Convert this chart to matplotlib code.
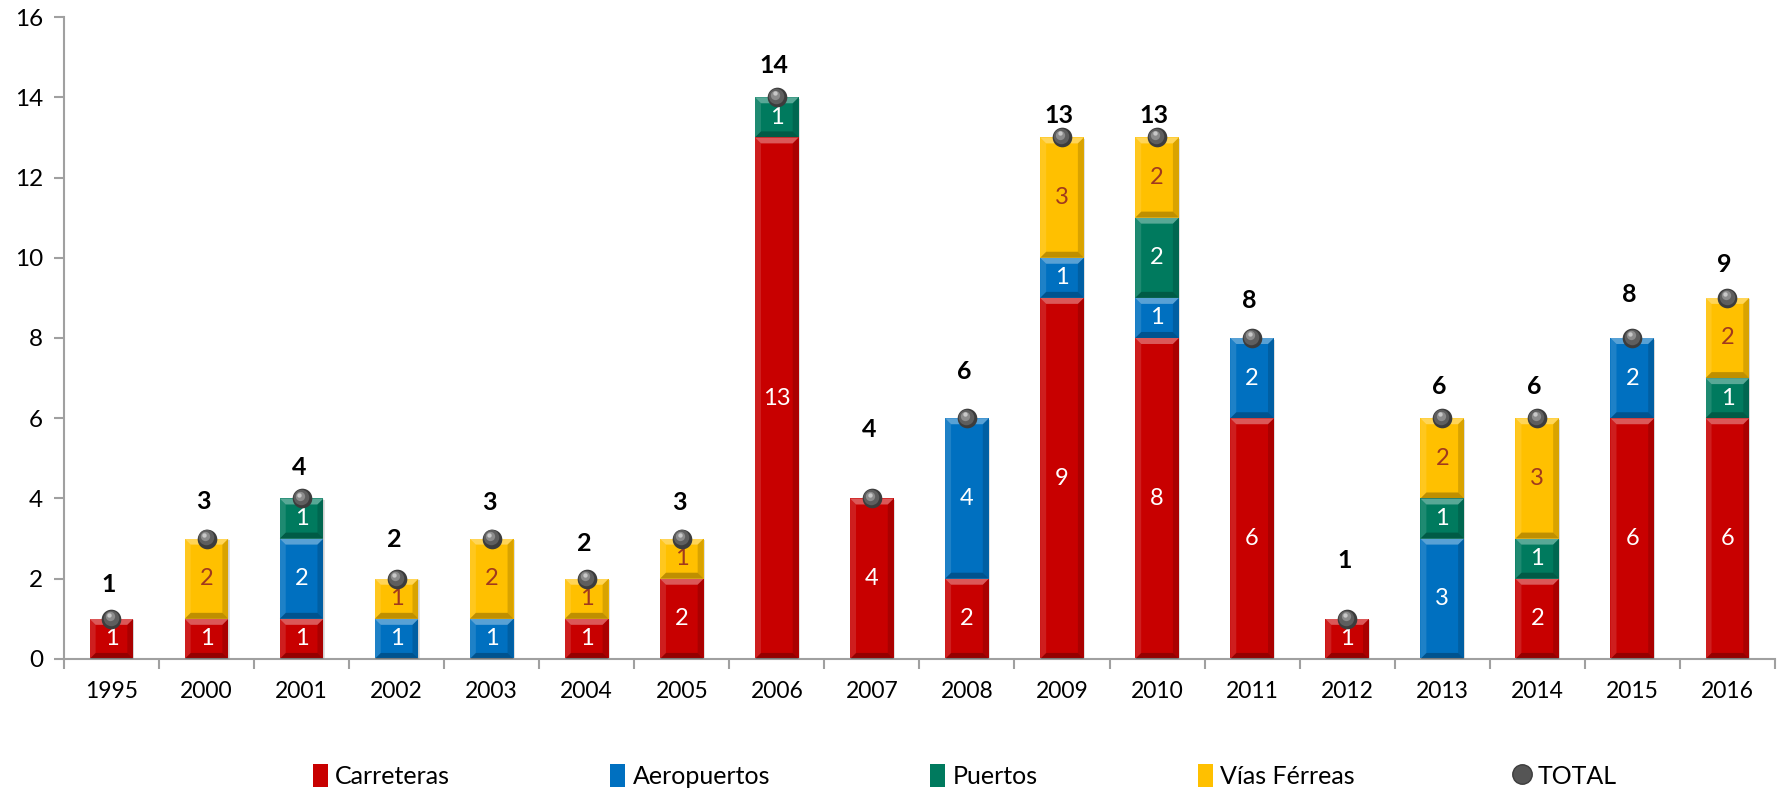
import matplotlib
matplotlib.use("Agg")
import matplotlib.pyplot as plt
from matplotlib.patches import Polygon, Rectangle, Patch
from matplotlib.lines import Line2D
from matplotlib.transforms import offset_copy
import numpy as np

plt.rcParams['font.family'] = ['Lato', 'DejaVu Sans']

years = ['1995', '2000', '2001', '2002', '2003', '2004', '2005', '2006', '2007',
         '2008', '2009', '2010', '2011', '2012', '2013', '2014', '2015', '2016']
carreteras = [1, 1, 1, 0, 0, 1, 2, 13, 4, 2, 9, 8, 6, 1, 0, 2, 6, 6]
aeropuertos = [0, 0, 2, 1, 1, 0, 0, 0, 0, 4, 1, 1, 2, 0, 3, 0, 2, 0]
puertos = [0, 0, 1, 0, 0, 0, 0, 1, 0, 0, 0, 2, 0, 0, 1, 1, 0, 1]
vias_ferreas = [0, 2, 0, 1, 2, 1, 1, 0, 0, 0, 3, 2, 0, 0, 2, 3, 0, 2]
totals = [1, 3, 4, 2, 3, 2, 3, 14, 4, 6, 13, 13, 8, 1, 6, 6, 8, 9]

series = [
    ('Carreteras', carreteras, '#C80000', 'white'),
    ('Aeropuertos', aeropuertos, '#0070C0', 'white'),
    ('Puertos', puertos, '#007A5E', 'white'),
    ('Vías Férreas', vias_ferreas, '#FFC000', '#A0391E'),
]

# how far (in points) each total label sits above its marker
label_lift = [25, 27, 22, 28, 26, 25, 26, 23, 50, 34, 16, 16, 27, 42, 23, 23, 31, 24]

fig = plt.figure(figsize=(17.86, 7.92), dpi=100)
ax = fig.add_axes([0.0358, 0.168, 0.958, 0.8105])
x = np.arange(len(years))
bar_w = 0.46
ax.set_xlim(-0.5, len(years) - 0.5)
ax.set_ylim(0, 16)

# bevel size in data units, from a fixed pixel size
px_x = ax.transData.transform((1, 0))[0] - ax.transData.transform((0, 0))[0]
px_y = ax.transData.transform((0, 1))[1] - ax.transData.transform((0, 0))[1]
bev = 6
dx, dy = bev / px_x, bev / px_y


def bevel_bar(cx, y0, y1, color):
    x0, x1 = cx - bar_w / 2, cx + bar_w / 2
    ax.add_patch(Rectangle((x0 + 0.012, y0 - 0.04), bar_w, y1 - y0, color='black',
                           alpha=0.12, lw=0, zorder=1))
    ax.add_patch(Rectangle((x0, y0), bar_w, y1 - y0, facecolor=color,
                           edgecolor='none', zorder=2))
    h = min(dy, (y1 - y0) / 2)
    w = min(dx, bar_w / 2)
    faces = [
        ([(x0, y1), (x1, y1), (x1 - w, y1 - h), (x0 + w, y1 - h)], 'white', 0.35),
        ([(x0, y0), (x1, y0), (x1 - w, y0 + h), (x0 + w, y0 + h)], 'black', 0.25),
        ([(x0, y0), (x0, y1), (x0 + w, y1 - h), (x0 + w, y0 + h)], 'white', 0.12),
        ([(x1, y0), (x1, y1), (x1 - w, y1 - h), (x1 - w, y0 + h)], 'black', 0.15),
    ]
    for pts, c, a in faces:
        ax.add_patch(Polygon(pts, closed=True, facecolor=c, alpha=a, lw=0, zorder=3))


bottom = np.zeros(len(years))
for name, vals, color, tcolor in series:
    for i, v in enumerate(vals):
        if v == 0:
            continue
        bevel_bar(x[i], bottom[i], bottom[i] + v, color)
        ax.text(x[i], bottom[i] + v / 2, str(v), ha='center', va='center',
                fontsize=17, color=tcolor, zorder=5)
    bottom += np.array(vals)

# TOTAL markers drawn as shaded spheres
ax.scatter(x, totals, s=200, color='#3c3c3c', zorder=6, linewidths=0)
ax.scatter(x, totals, s=125, color='#5e5e5e', zorder=7, linewidths=0,
           transform=offset_copy(ax.transData, fig, x=-0.6, y=0.8, units='points'))
ax.scatter(x, totals, s=45, color='#8c8c8c', zorder=8, linewidths=0,
           transform=offset_copy(ax.transData, fig, x=-1.2, y=1.8, units='points'))
ax.scatter(x, totals, s=10, color='#c8c8c8', zorder=9, linewidths=0,
           transform=offset_copy(ax.transData, fig, x=-1.6, y=2.8, units='points'))

for i, t in enumerate(totals):
    ax.annotate(str(t), (x[i], t), xytext=(-2, label_lift[i]), textcoords='offset points',
                ha='center', va='center', fontsize=18, fontweight='bold', color='black',
                zorder=10)

for s in ['top', 'right']:
    ax.spines[s].set_visible(False)
for s in ['left', 'bottom']:
    ax.spines[s].set_color('#a0a0a0')
    ax.spines[s].set_linewidth(1.5)

ax.set_yticks(np.arange(0, 17, 2))
ax.tick_params(axis='y', labelsize=17.5, length=7, width=1.5, color='#a0a0a0', pad=8)
ax.set_xticks(x)
ax.set_xticklabels(years)
ax.set_xticks(np.arange(-0.5, len(years), 1), minor=True)
ax.tick_params(axis='x', which='major', length=0, labelsize=16.5, pad=16)
ax.tick_params(axis='x', which='minor', length=7, width=1.5, color='#a0a0a0')

handles = [Patch(facecolor=c, edgecolor='none') for _, _, c, _ in series]
handles.append(Line2D([], [], marker='o', color='none', markerfacecolor='#555555',
                      markeredgecolor='#3c3c3c', markersize=14))
labels = [n for n, _, _, _ in series] + ['TOTAL']
fig.legend(handles, labels, loc='center', bbox_to_anchor=(0.54, 0.02), ncol=5,
           frameon=False, fontsize=18, handlelength=0.6, handleheight=1.0,
           handletextpad=0.3, columnspacing=6.4)

fig.savefig('out.png', dpi=100)
